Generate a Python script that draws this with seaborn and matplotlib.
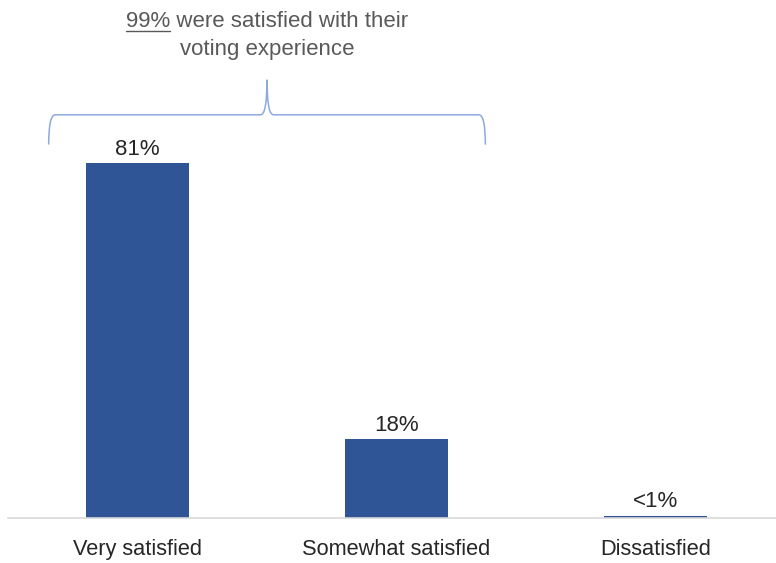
import matplotlib
matplotlib.use("Agg")
import matplotlib.pyplot as plt
import seaborn as sns
import pandas as pd
from matplotlib.path import Path
from matplotlib.patches import PathPatch

categories = ["Very satisfied", "Somewhat satisfied", "Dissatisfied"]
values = [81, 18, 0.5]
value_labels = ["81%", "18%", "<1%"]
headline_pct = "99%"
headline_rest = " were satisfied with their"
headline_line2 = "voting experience"

sns.set_theme(style="white")
plt.rcParams["font.family"] = ["Liberation Sans", "DejaVu Sans"]

BAR = "#2F5597"
BRACE = "#8EA9DB"
GRAY = "#595959"
TEXT = "#262626"

df = pd.DataFrame({"category": categories, "value": values})

fig = plt.figure(figsize=(7.76, 5.63), dpi=100)
ax = fig.add_axes([8 / 776, 45 / 563, 768 / 776, 518 / 563])
sns.barplot(data=df, x="category", y="value", color=BAR, saturation=1,
            width=0.4, linewidth=0, edgecolor="none", ax=ax)

ax.set_xlim(-0.5, 2.465)
ax.set_ylim(0, 118.2)
ax.set_xlabel("")
ax.set_ylabel("")
ax.set_yticks([])
for s in ["top", "right", "left"]:
    ax.spines[s].set_visible(False)
ax.spines["bottom"].set_color("#D9D9D9")
ax.spines["bottom"].set_linewidth(1.2)
ax.tick_params(axis="x", length=0, pad=15, labelsize=15.7, labelcolor=TEXT)

for i, (v, lab) in enumerate(zip(values, value_labels)):
    ax.text(i, v + 1.9, lab, ha="center", va="baseline", fontsize=16,
            color=TEXT)

# curly brace spanning the two "satisfied" bars
half = 0.4 / 2
x0, x1 = 0 - half - 0.143, 1 + half + 0.143
xm = (x0 + x1) / 2
y_end, y_line, y_peak = 85.2, 92.0, 100.0
dx = 0.025
verts = [
    (x0, y_end), (x0, y_line), (x0 + dx, y_line),
    (xm - dx, y_line), (xm, y_line), (xm, y_peak),
    (xm, y_line), (xm + dx, y_line),
    (x1 - dx, y_line), (x1, y_line), (x1, y_end),
]
codes = [Path.MOVETO, Path.CURVE3, Path.CURVE3,
         Path.LINETO, Path.CURVE3, Path.CURVE3,
         Path.CURVE3, Path.CURVE3,
         Path.LINETO, Path.CURVE3, Path.CURVE3]
ax.add_patch(PathPatch(Path(verts, codes), fill=False, edgecolor=BRACE,
                       linewidth=1.1, clip_on=False))

# headline above the brace, with the percentage underlined
HFS = 16
t1 = ax.text(xm, 113.3, headline_pct + headline_rest, ha="center",
             va="center", fontsize=HFS, color=GRAY)
ax.text(xm, 106.9, headline_line2, ha="center", va="center",
        fontsize=HFS, color=GRAY)
fig.canvas.draw()
bb = t1.get_window_extent()
tmp = ax.text(0, 0, headline_pct, fontsize=HFS)
w = tmp.get_window_extent().width
tmp.remove()
inv = ax.transData.inverted()
(ux0, uy), = inv.transform([(bb.x0, bb.y0 + 1)])
(ux1, _), = inv.transform([(bb.x0 + w, bb.y0 + 1)])
ax.plot([ux0, ux1], [uy, uy], color=GRAY, linewidth=1.0, clip_on=False)

fig.savefig("out.png", dpi=100)
